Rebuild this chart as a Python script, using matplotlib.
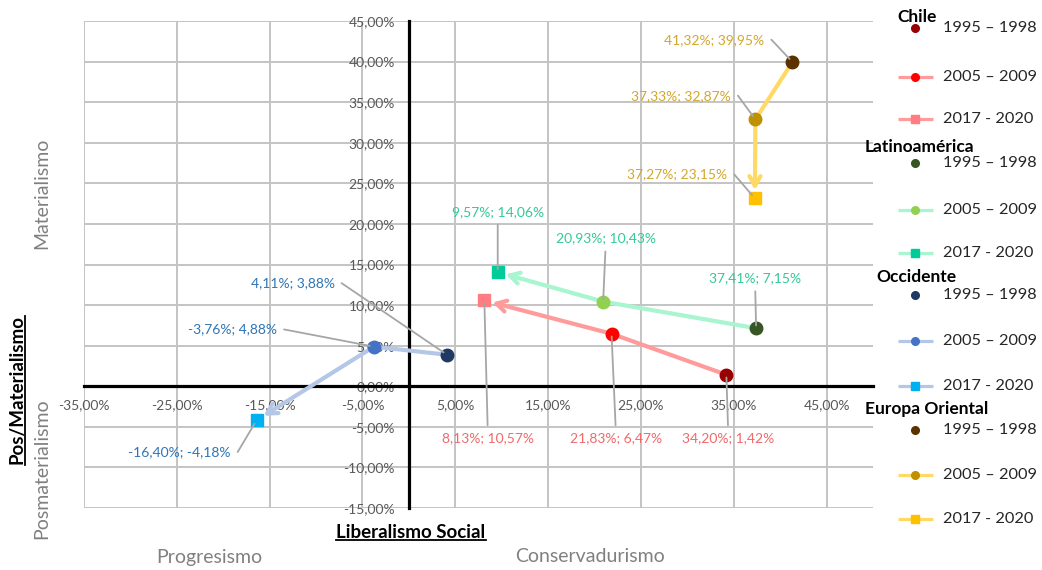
import matplotlib
matplotlib.use('Agg')
import matplotlib.pyplot as plt
from matplotlib.lines import Line2D
from matplotlib.ticker import FuncFormatter, MultipleLocator

plt.rcParams['font.family'] = ['Lato', 'DejaVu Sans']

# datos (% liberalismo social, % pos/materialismo)
regiones = ['Chile', 'Latinoamérica', 'Occidente', 'Europa Oriental']
periodos = ['1995 – 1998', '2005 – 2009', '2017 - 2020']
chile_x = [34.20, 21.83, 8.13]
chile_y = [1.42, 6.47, 10.57]
latam_x = [37.41, 20.93, 9.57]
latam_y = [7.15, 10.43, 14.06]
occ_x = [4.11, -3.76, -16.40]
occ_y = [3.88, 4.88, -4.18]
eur_x = [41.32, 37.33, 37.27]
eur_y = [39.95, 32.87, 23.15]

series_x = [chile_x, latam_x, occ_x, eur_x]
series_y = [chile_y, latam_y, occ_y, eur_y]

# colores por region: marcadores 95/05/17, linea, etiqueta
marker_cols = [['#990000', '#FF0000', '#FF7C80'],
               ['#375623', '#92D050', '#00CC99'],
               ['#203864', '#4472C4', '#00B0F0'],
               ['#5C3100', '#BF9000', '#FFC000']]
line_cols = ['#FF9B9B', '#A8F5CF', '#B4C7E7', '#FFD966']
label_cols = ['#F06A6A', '#33C99A', '#2E75B6', '#D4A72C']

# posicion de etiquetas (data coords) y tipo de guia
label_pos = [[(34.4, -6.4), (22.3, -6.4), (8.5, -6.4)],
             [(37.3, 13.3), (21.2, 18.2), (9.57, 21.5)],
             [(-8.0, 12.7), (-14.2, 7.0), (-19.2, -8.1)],
             [(38.3, 42.7), (34.7, 35.8), (34.3, 26.1)]]
label_mode = ['below', 'above', 'left', 'left']

W, H = 1042, 570
fig = plt.figure(figsize=(W / 100, H / 100), dpi=100)
ax = fig.add_axes([84 / W, 1 - 508 / H, (873 - 84) / W, (508 - 21) / H])

ax.set_xlim(-35, 50)
ax.set_ylim(-15, 45)
ax.xaxis.set_major_locator(MultipleLocator(10, offset=5))
ax.yaxis.set_major_locator(MultipleLocator(5))
fmt = FuncFormatter(lambda v, p: f'{v:.2f}'.replace('.', ',') + '%')
ax.xaxis.set_major_formatter(fmt)
ax.yaxis.set_major_formatter(fmt)
ax.grid(True, color='#C4C4C4', lw=1.4, zorder=0)
ax.set_axisbelow(True)
for s in ['top', 'right']:
    ax.spines[s].set_visible(False)
ax.spines['left'].set_position(('data', 0))
ax.spines['bottom'].set_position(('data', 0))
for s in ['left', 'bottom']:
    ax.spines[s].set_linewidth(2.3)
    ax.spines[s].set_color('black')
    ax.spines[s].set_zorder(1.5)
ax.tick_params(axis='x', length=0, pad=9, labelsize=10, labelcolor='#595959')
ax.tick_params(axis='y', length=0, pad=10, labelsize=10, labelcolor='#595959')

for i in range(4):
    xs, ys = series_x[i], series_y[i]
    ax.plot(xs[:2], ys[:2], color=line_cols[i], lw=3, zorder=3, solid_capstyle='round')
    ax.annotate('', xy=(xs[2], ys[2]), xytext=(xs[1], ys[1]),
                arrowprops=dict(arrowstyle='->,head_length=0.7,head_width=0.4',
                                color=line_cols[i], lw=3, shrinkA=0, shrinkB=6),
                zorder=3)
    ax.plot(xs[0], ys[0], 'o', ms=9, color=marker_cols[i][0], zorder=4)
    ax.plot(xs[1], ys[1], 'o', ms=9, color=marker_cols[i][1], zorder=4)
    ax.plot(xs[2], ys[2], 's', ms=9, color=marker_cols[i][2], zorder=4)

    for j in range(3):
        txt = f'{xs[j]:.2f}%; {ys[j]:.2f}%'.replace('.', ',')
        lp = label_pos[i][j]
        mode = label_mode[i]
        if mode == 'left':
            ax.annotate(txt, xy=(xs[j], ys[j]), xytext=lp, ha='right', va='center',
                        fontsize=10, color=label_cols[i], zorder=5,
                        arrowprops=dict(arrowstyle='-', color='#A6A6A6', lw=1.3,
                                        shrinkA=3, shrinkB=3, relpos=(1, 0.5),
                                        connectionstyle='arc,angleA=0,armA=7,rad=0'))
        elif mode == 'above':
            ax.annotate(txt, xy=(xs[j], ys[j]), xytext=lp, ha='center', va='center',
                        fontsize=10, color=label_cols[i], zorder=5,
                        arrowprops=dict(arrowstyle='-', color='#A6A6A6', lw=1.3,
                                        shrinkA=3, shrinkB=2, relpos=(0.5, 0)))
        else:
            ax.annotate(txt, xy=(xs[j], ys[j]), xytext=lp, ha='center', va='center',
                        fontsize=10, color=label_cols[i], zorder=5,
                        arrowprops=dict(arrowstyle='-', color='#A6A6A6', lw=1.3,
                                        shrinkA=3, shrinkB=2, relpos=(0.5, 1)))


def px(x, y):
    return x / W, 1 - y / H


# titulos de ejes
fig.text(*px(42, 193), 'Materialismo', rotation=90, ha='center', va='center',
         fontsize=14, color='#808080')
fig.text(*px(42, 469), 'Posmaterialismo', rotation=90, ha='center', va='center',
         fontsize=14, color='#808080')
t_pos = fig.text(*px(17, 390), 'Pos/Materialismo', rotation=90, ha='center', va='center',
                 fontsize=13.5, fontweight='bold', color='black')
t_lib = fig.text(*px(411, 532), 'Liberalismo Social', ha='center', va='center',
                 fontsize=13.5, fontweight='bold', color='black')
fig.text(*px(209, 557), 'Progresismo', ha='center', va='center', fontsize=14, color='#808080')
fig.text(*px(590, 557), 'Conservadurismo', ha='center', va='center', fontsize=14,
         color='#808080')

# subrayados
fig.canvas.draw()
r = fig.canvas.get_renderer()
bb = t_lib.get_window_extent(r)
fig.add_artist(Line2D([bb.x0, bb.x1], [bb.y0 + 1, bb.y0 + 1], color='black', lw=1.3,
                      transform=None))
bb = t_pos.get_window_extent(r)
fig.add_artist(Line2D([bb.x1 - 1, bb.x1 - 1], [bb.y0, bb.y1], color='black', lw=1.3,
                      transform=None))

# leyenda manual
title_pos = [(897, 17), (865, 147), (876, 277), (865, 409)]
entry_y = [[28, 77, 119], [163, 210, 253], [295, 341, 386], [430, 475, 519]]
lax = fig.add_axes([0, 0, 1, 1])
lax.set_xlim(0, W)
lax.set_ylim(H, 0)
lax.axis('off')
for i in range(4):
    lax.text(title_pos[i][0], title_pos[i][1], regiones[i], ha='left', va='center',
             fontsize=12.5, fontweight='bold', color='black')
    for j in range(3):
        y = entry_y[i][j]
        if j > 0:
            lax.plot([898, 933], [y, y], color=line_cols[i], lw=2.3, solid_capstyle='butt')
        lax.plot(915, y, 's' if j == 2 else 'o', ms=5.5,
                 color=marker_cols[i][j])
        lax.text(943, y, periodos[j], ha='left', va='center', fontsize=11.8, color='#262626')

fig.savefig('out.png', dpi=100)
